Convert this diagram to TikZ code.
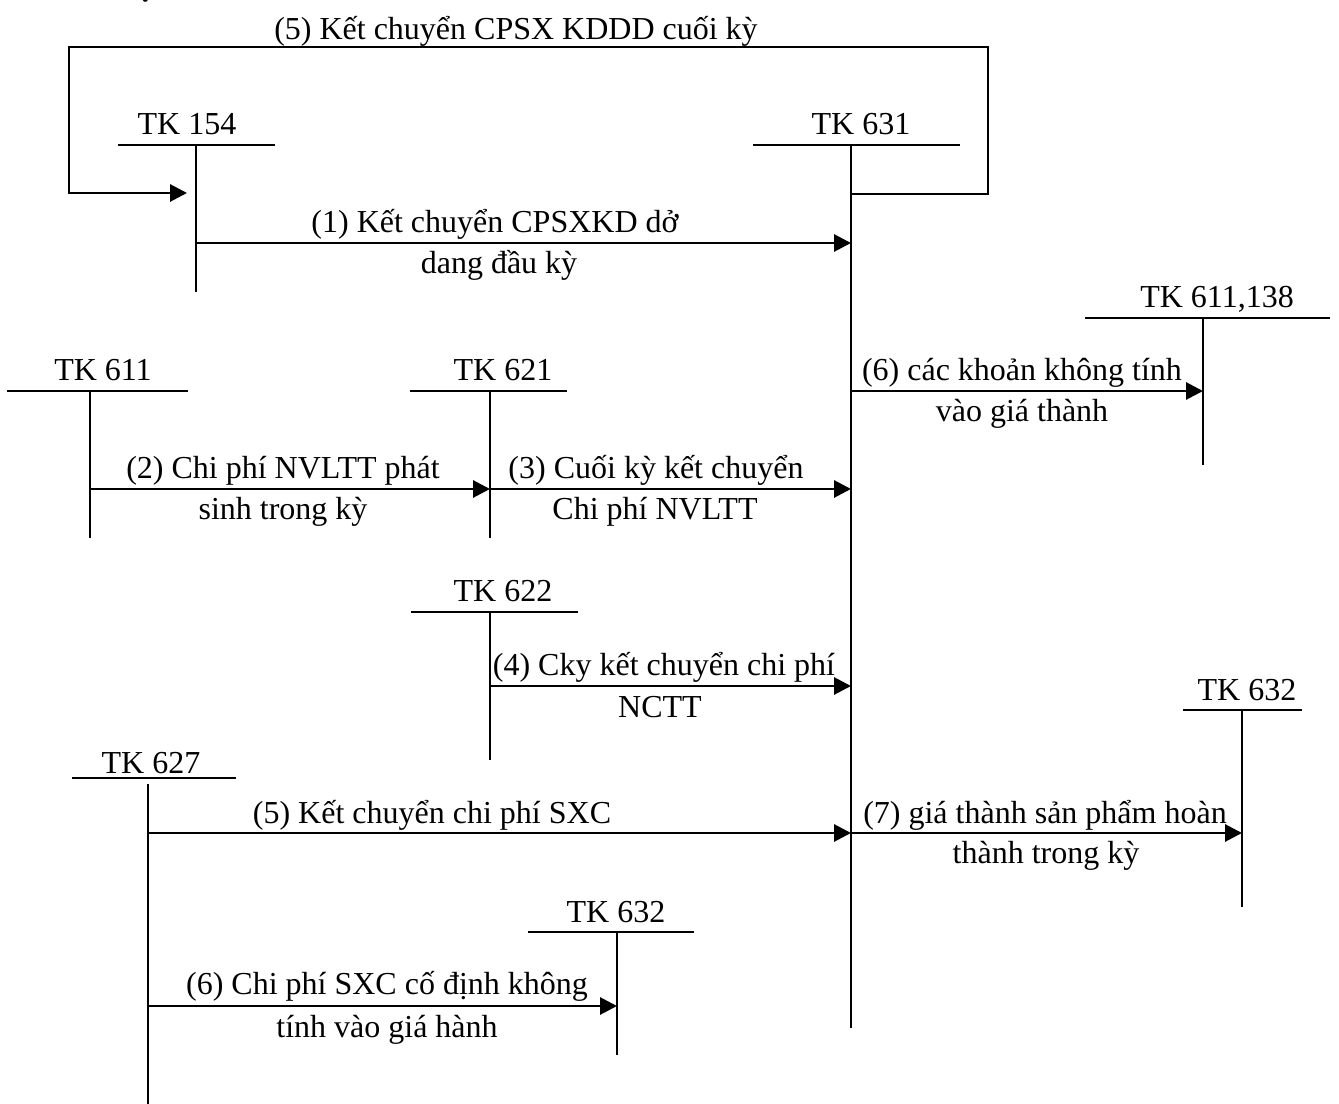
\documentclass[tikz,border=0pt]{standalone}
\usepackage{fontspec}
\setmainfont{Liberation Serif}
\usetikzlibrary{arrows.meta}

\begin{document}
\begin{tikzpicture}[x=0.375pt, y=-0.375pt, font=\fontsize{12}{14}\selectfont,
    txt/.style={anchor=base, inner sep=0pt},
    tline/.style={line width=0.75pt},
    flow/.style={line width=1.1pt, -{Triangle[length=6.3pt, width=6.3pt]}}]
    \useasboundingbox (0,0) rectangle (1339,1104);

    \node (title) [anchor=base west, inner sep=0pt, font=\bfseries\fontsize{13}{15}\selectfont] at (25,-4) {Sơ đồ hạch toán:};

    \node (tk154) [txt] at (187,135) {TK 154};
    \node (tk631) [txt] at (861,135) {TK 631};
    \node (tk611b) [txt] at (1217,308) {TK 611,138};
    \node (tk611) [txt] at (103,381) {TK 611};
    \node (tk621) [txt] at (503,381) {TK 621};
    \node (tk622) [txt] at (503,602) {TK 622};
    \node (tk632a) [txt] at (1247,700) {TK 632};
    \node (tk627) [txt] at (151,774) {TK 627};
    \node (tk632b) [txt] at (616,922) {TK 632};

    \draw [tline] (118,145) -- (275,145) (196,145) -- (196,292);
    \draw [tline] (753,145) -- (960,145) (851,145) -- (851,1028);
    \draw [tline] (1085,318) -- (1330,318) (1203,318) -- (1203,465);
    \draw [tline] (7,391) -- (188,391) (90,391) -- (90,538);
    \draw [tline] (410,391) -- (567,391) (490,391) -- (490,538);
    \draw [tline] (411,612) -- (578,612) (490,612) -- (490,760);
    \draw [tline] (1183,710) -- (1302,710) (1242,710) -- (1242,907);
    \draw [tline] (72,778) -- (236,778) (148,784) -- (148,1104);
    \draw [tline] (528,932) -- (694,932) (617,932) -- (617,1055);

    \coordinate (k5s) at (851,194);
    \coordinate (k5e) at (187,193);
    \coordinate (k1s) at (196,243);
    \coordinate (k1e) at (851,243);
    \coordinate (k6s) at (851,391);
    \coordinate (k6e) at (1203,391);
    \coordinate (k2s) at (90,489);
    \coordinate (k2e) at (490,489);
    \coordinate (k3e) at (851,489);
    \coordinate (k4s) at (490,686);
    \coordinate (k4e) at (851,686);
    \coordinate (s5s) at (148,833);
    \coordinate (s5e) at (851,833);
    \coordinate (k7e) at (1242,833);
    \coordinate (s6s) at (148,1006);
    \coordinate (s6e) at (617,1006);

    \draw [flow] (k5s) -| (988,47) -| (69,193) -- (k5e);
    \draw [flow] (k1s) -- (k1e);
    \draw [flow] (k6s) -- (k6e);
    \draw [flow] (k2s) -- (k2e);
    \draw [flow] (k2e) -- (k3e);
    \draw [flow] (k4s) -- (k4e);
    \draw [flow] (s5s) -- (s5e);
    \draw [flow] (s5e) -- (k7e);
    \draw [flow] (s6s) -- (s6e);

    \node (l5) [txt] at (516,40) {(5) Kết chuyển CPSX KDDD cuối kỳ};
    \node (l1a) [txt] at (495,233) {(1) Kết chuyển CPSXKD dở};
    \node (l1b) [txt] at (499,274) {dang đầu kỳ};
    \node (l6a) [txt] at (1022,381) {(6) các khoản không tính};
    \node (l6b) [txt] at (1022,422) {vào giá thành};
    \node (l2a) [txt] at (283,479) {(2) Chi phí NVLTT phát};
    \node (l2b) [txt] at (283,520) {sinh trong kỳ};
    \node (l3a) [txt] at (656,479) {(3) Cuối kỳ kết chuyển};
    \node (l3b) [txt] at (655,520) {Chi phí NVLTT};
    \node (l4a) [txt] at (664,676) {(4) Cky kết chuyển chi phí};
    \node (l4b) [txt] at (660,717) {NCTT};
    \node (s5) [txt] at (432,823) {(5) Kết chuyển chi phí SXC};
    \node (l7a) [txt] at (1045,823) {(7) giá thành sản phẩm hoàn};
    \node (l7b) [txt] at (1046,863) {thành trong kỳ};
    \node (s6a) [txt] at (387,994) {(6) Chi phí SXC cố định không};
    \node (s6b) [txt] at (387,1037) {tính vào giá hành};
\end{tikzpicture}
\end{document}
